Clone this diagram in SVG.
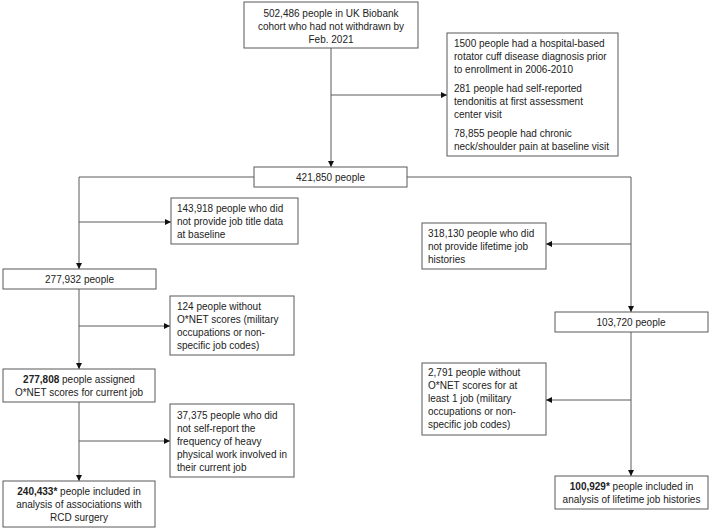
<svg xmlns="http://www.w3.org/2000/svg" width="709" height="528" viewBox="0 0 709 528">
<defs>
<style>
.box{fill:#fff;stroke:#595959;stroke-width:1}
.t{font-family:"Liberation Sans",Arial,sans-serif;font-size:10px;fill:#222}
.c{text-anchor:middle}
.b{font-weight:bold}
.ln{fill:none;stroke:#5a5a5a;stroke-width:1}
</style>
<marker id="ah" markerUnits="userSpaceOnUse" markerWidth="6" markerHeight="6" refX="6" refY="3" orient="auto">
<path d="M0,0 L6,3 L0,6 z" fill="#111"/>
</marker>
</defs>
<rect width="709" height="528" fill="#fff"/>
<g id="connectors">
<path class="ln" d="M331,48 V167" marker-end="url(#ah)"/>
<path class="ln" d="M331,95 H447" marker-end="url(#ah)"/>
<path class="ln" d="M254,177 H79 V269" marker-end="url(#ah)"/>
<path class="ln" d="M407,177 H631 V312" marker-end="url(#ah)"/>
<path class="ln" d="M79,222 H171" marker-end="url(#ah)"/>
<path class="ln" d="M79,289 V369" marker-end="url(#ah)"/>
<path class="ln" d="M79,326 H170" marker-end="url(#ah)"/>
<path class="ln" d="M79,402 V481" marker-end="url(#ah)"/>
<path class="ln" d="M79,441 H170" marker-end="url(#ah)"/>
<path class="ln" d="M631,244 H546" marker-end="url(#ah)"/>
<path class="ln" d="M631,332 V476" marker-end="url(#ah)"/>
<path class="ln" d="M631,400 H546" marker-end="url(#ah)"/>
</g>
<g id="n_start">
<rect class="box" x="244" y="2" width="174" height="46"/>
<text class="t c" x="331" y="16.5">502,486 people in UK Biobank</text>
<text class="t c" x="331" y="29.5">cohort who had not withdrawn by</text>
<text class="t c" x="331" y="42.5">Feb. 2021</text>
</g>
<g id="n_excl1">
<rect class="box" x="447" y="33" width="171" height="123"/>
<text class="t" x="454" y="46.5">1500 people had a hospital-based</text>
<text class="t" x="454" y="59.5">rotator cuff disease diagnosis prior</text>
<text class="t" x="454" y="72.5">to enrollment in 2006-2010</text>
<text class="t" x="454" y="91.5">281 people had self-reported</text>
<text class="t" x="454" y="104.5">tendonitis at first assessment</text>
<text class="t" x="454" y="117.5">center visit</text>
<text class="t" x="454" y="136.5">78,855 people had chronic</text>
<text class="t" x="454" y="150">neck/shoulder pain at baseline visit</text>
</g>
<g id="n_421850">
<rect class="box" x="254" y="167" width="153" height="20"/>
<text class="t c" x="330.5" y="180.5">421,850 people</text>
</g>
<g id="n_excl_jobtitle">
<rect class="box" x="171" y="198" width="127" height="46"/>
<text class="t" x="177" y="211.5">143,918 people who did</text>
<text class="t" x="177" y="224.5">not provide job title data</text>
<text class="t" x="177" y="237.5">at baseline</text>
</g>
<g id="n_277932">
<rect class="box" x="3" y="269" width="153" height="20"/>
<text class="t c" x="79.5" y="282.5">277,932 people</text>
</g>
<g id="n_excl_onet1">
<rect class="box" x="170" y="296" width="124" height="59"/>
<text class="t" x="177" y="309.5">124 people without</text>
<text class="t" x="177" y="322.5">O*NET scores (military</text>
<text class="t" x="177" y="335.5">occupations or non-</text>
<text class="t" x="177" y="348.5">specific job codes)</text>
</g>
<g id="n_277808">
<rect class="box" x="3" y="369" width="152" height="33"/>
<text class="t c" x="79" y="382.5"><tspan class="b">277,808</tspan> people assigned</text>
<text class="t c" x="79" y="395.5">O*NET scores for current job</text>
</g>
<g id="n_excl_heavy">
<rect class="box" x="170" y="404" width="124" height="73"/>
<text class="t" x="177" y="418.5">37,375 people who did</text>
<text class="t" x="177" y="431.5">not self-report the</text>
<text class="t" x="177" y="444.5">frequency of heavy</text>
<text class="t" x="177" y="457.5">physical work involved in</text>
<text class="t" x="177" y="470.5">their current job</text>
</g>
<g id="n_240433">
<rect class="box" x="3" y="481" width="152" height="46"/>
<text class="t c" x="79" y="494.5"><tspan class="b">240,433*</tspan> people included in</text>
<text class="t c" x="79" y="507.5">analysis of associations with</text>
<text class="t c" x="79" y="520.5">RCD surgery</text>
</g>
<g id="n_excl_lifetime">
<rect class="box" x="422" y="223" width="124" height="46"/>
<text class="t" x="428" y="236.5">318,130 people who did</text>
<text class="t" x="428" y="249.5">not provide lifetime job</text>
<text class="t" x="428" y="262.5">histories</text>
</g>
<g id="n_103720">
<rect class="box" x="555" y="312" width="153" height="20"/>
<text class="t c" x="631" y="325.5">103,720 people</text>
</g>
<g id="n_excl_onet2">
<rect class="box" x="422" y="363" width="124" height="72"/>
<text class="t" x="428" y="375.5">2,791 people without</text>
<text class="t" x="428" y="388.5">O*NET scores for at</text>
<text class="t" x="428" y="401.5">least 1 job (military</text>
<text class="t" x="428" y="414.5">occupations or non-</text>
<text class="t" x="428" y="427.5">specific job codes)</text>
</g>
<g id="n_100929">
<rect class="box" x="555" y="476" width="153" height="33"/>
<text class="t c" x="631.5" y="490"><tspan class="b">100,929*</tspan> people included in</text>
<text class="t c" x="631.5" y="503">analysis of lifetime job histories</text>
</g>
</svg>
